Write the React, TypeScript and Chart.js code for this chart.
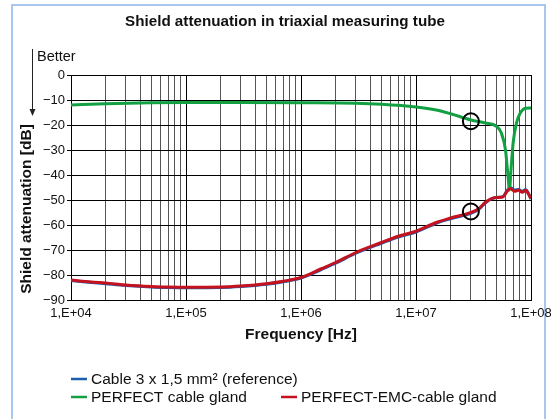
import React, { useEffect, useRef } from 'react';
import { Chart, registerables } from 'chart.js';

Chart.register(...registerables);

// ---- data ----
const refFreq = [1e4, 1.5e4, 2e4, 3e4, 5e4, 7e4, 1e5, 2e5, 3e5, 5e5, 7e5, 1e6, 1.5e6, 2e6, 3e6, 5e6, 7e6, 1e7, 1.5e7, 2e7, 3e7, 3.5e7, 4e7, 4.5e7, 5e7, 5.7e7, 6.2e7, 6.6e7, 7.2e7, 7.8e7, 8.4e7, 9e7, 9.5e7, 1e8];
const refDb = [-82.2, -83.0, -83.5, -84.2, -84.8, -85.0, -85.1, -85.0, -84.6, -83.7, -82.7, -81.2, -77.8, -75.3, -71.3, -67.3, -64.8, -62.8, -59.3, -57.5, -55.3, -53.8, -51.2, -49.6, -49.0, -48.6, -46.2, -45.0, -46.0, -45.8, -46.5, -45.8, -47.4, -49.6];
const emcFreq = refFreq;
const emcDb = [-82.0, -82.8, -83.2, -84.0, -84.6, -84.8, -84.9, -84.8, -84.4, -83.5, -82.5, -81.0, -77.5, -75.0, -71.0, -67.0, -64.5, -62.5, -59.0, -57.2, -55.0, -53.5, -51.0, -49.5, -49.0, -48.8, -46.5, -45.4, -46.5, -46.1, -46.9, -46.1, -47.6, -49.4];
const glandFreq = [1e4, 2e4, 5e4, 1e5, 3e5, 1e6, 3e6, 5e6, 1e7, 1.5e7, 2e7, 3e7, 4e7, 5e7, 5.5e7, 6e7, 6.3e7, 6.5e7, 6.7e7, 7e7, 7.5e7, 8e7, 9e7, 1e8];
const glandDb = [-12.0, -11.5, -11.1, -11.0, -11.0, -11.1, -11.3, -11.7, -12.8, -14.0, -15.5, -18.0, -19.2, -20.5, -23.0, -30.0, -40.0, -46.0, -38.0, -27.0, -19.0, -15.5, -13.3, -13.2];
const markerFreq = [3e7, 3e7];
const markerDb = [-18.5, -54.6];

const seriesNames = ['Cable 3 x 1,5 mm\u00b2 (reference)', 'PERFECT cable gland', 'PERFECT-EMC-cable gland'];
const seriesColors = ['#1a5eb0', '#13a043', '#c4121f'];

const xGridValues = [
  1e4, 2e4, 3e4, 4e4, 5e4, 6e4, 7e4, 8e4, 9e4,
  1e5, 2e5, 3e5, 4e5, 5e5, 6e5, 7e5, 8e5, 9e5,
  1e6, 2e6, 3e6, 4e6, 5e6, 6e6, 7e6, 8e6, 9e6,
  1e7, 2e7, 3e7, 4e7, 5e7, 6e7, 7e7, 8e7, 9e7,
  1e8,
];
const xTickValues = [1e4, 1e5, 1e6, 1e7, 1e8];
const xTickLabels = ['1,E+04', '1,E+05', '1,E+06', '1,E+07', '1,E+08'];
const yTickValues = [0, -10, -20, -30, -40, -50, -60, -70, -80, -90];

const FONT = '"Liberation Sans", Arial, Helvetica, sans-serif';

const toPts = (xs: number[], ys: number[]) => xs.map((x, i) => ({ x, y: ys[i] }));

const decor = {
  id: 'decor',
  beforeDraw(chart: any) {
    const ctx = chart.ctx;
    ctx.save();
    ctx.fillStyle = '#ffffff';
    ctx.fillRect(0, 0, chart.width, chart.height);
    ctx.strokeStyle = '#a9c7ee';
    ctx.lineWidth = 2;
    ctx.strokeRect(12, 5, 533, 440);
    ctx.restore();
  },
  afterDraw(chart: any) {
    const ctx = chart.ctx;
    const area = chart.chartArea;
    ctx.save();
    ctx.fillStyle = '#111';
    ctx.textBaseline = 'middle';

    // title
    ctx.font = `bold 15.2px ${FONT}`;
    ctx.textAlign = 'center';
    ctx.fillText('Shield attenuation in triaxial measuring tube', 285, 22);

    // "Better" + arrow
    ctx.font = `14.5px ${FONT}`;
    ctx.textAlign = 'left';
    ctx.fillText('Better', 37, 57);
    ctx.strokeStyle = '#222';
    ctx.lineWidth = 1;
    ctx.beginPath();
    ctx.moveTo(32.5, 49);
    ctx.lineTo(32.5, 110);
    ctx.stroke();
    ctx.fillStyle = '#222';
    ctx.beginPath();
    ctx.moveTo(29.5, 109);
    ctx.lineTo(35.5, 109);
    ctx.lineTo(32.5, 116);
    ctx.closePath();
    ctx.fill();

    // axis titles
    ctx.fillStyle = '#111';
    ctx.font = `bold 15.5px ${FONT}`;
    ctx.textAlign = 'center';
    ctx.fillText('Frequency [Hz]', (area.left + area.right) / 2, 335);
    ctx.save();
    ctx.translate(27, 209);
    ctx.rotate(-Math.PI / 2);
    ctx.fillText('Shield attenuation [dB]', 0, 0);
    ctx.restore();

    // legend
    const items = [
      { x: 71, y: 379, i: 0 },
      { x: 71, y: 397, i: 1 },
      { x: 281, y: 397, i: 2 },
    ];
    ctx.font = `15.5px ${FONT}`;
    ctx.textAlign = 'left';
    items.forEach((it) => {
      ctx.strokeStyle = seriesColors[it.i];
      ctx.lineWidth = 2.5;
      ctx.beginPath();
      ctx.moveTo(it.x, it.y);
      ctx.lineTo(it.x + 16, it.y);
      ctx.stroke();
      ctx.fillStyle = '#111';
      ctx.fillText(seriesNames[it.i], it.x + 20, it.y + 0.5);
    });
    ctx.restore();
  },
};

export default function App() {
  const ref = useRef<HTMLCanvasElement | null>(null);

  useEffect(() => {
    document.body.style.margin = '0';
    const canvas = ref.current;
    if (!canvas) return;
    const chart = new Chart(canvas, {
      type: 'line',
      data: {
        datasets: [
          {
            label: 'markers',
            data: toPts(markerFreq, markerDb),
            showLine: false,
            pointRadius: 8,
            pointBorderWidth: 2,
            pointBorderColor: '#000',
            pointBackgroundColor: 'rgba(0,0,0,0)',
            borderColor: '#000',
            order: 0,
          },
          {
            label: seriesNames[2],
            data: toPts(emcFreq, emcDb),
            borderColor: seriesColors[2],
            borderWidth: 3,
            pointRadius: 0,
            cubicInterpolationMode: 'monotone',
            order: 1,
          },
          {
            label: seriesNames[1],
            data: toPts(glandFreq, glandDb),
            borderColor: seriesColors[1],
            borderWidth: 3,
            pointRadius: 0,
            cubicInterpolationMode: 'monotone',
            order: 2,
          },
          {
            label: seriesNames[0],
            data: toPts(refFreq, refDb),
            borderColor: seriesColors[0],
            borderWidth: 3,
            pointRadius: 0,
            cubicInterpolationMode: 'monotone',
            order: 3,
          },
        ],
      },
      options: {
        responsive: false,
        animation: false,
        layout: { padding: { left: 0, right: 20, top: 75, bottom: 0 } },
        plugins: {
          legend: { display: false },
          title: { display: false },
          tooltip: { enabled: false },
        },
        scales: {
          x: {
            type: 'logarithmic',
            min: 1e4,
            max: 1e8,
            afterBuildTicks: (scale: any) => {
              scale.ticks = xGridValues.map((v) => ({ value: v }));
            },
            afterFit: (scale: any) => {
              scale.height = 119;
              scale.paddingLeft = 0;
              scale.paddingRight = 0;
            },
            ticks: {
              autoSkip: false,
              maxRotation: 0,
              minRotation: 0,
              padding: 6,
              color: '#111',
              font: { family: FONT, size: 13 },
              callback: (value: any) => {
                const idx = xTickValues.findIndex((t) => Math.abs(t - Number(value)) / t < 1e-6);
                return idx >= 0 ? xTickLabels[idx] : '';
              },
            },
            grid: {
              drawTicks: false,
              color: (ctx: any) => {
                const v = ctx.tick ? ctx.tick.value : 0;
                return xTickValues.some((t) => Math.abs(t - v) / t < 1e-6) ? '#000' : '#555';
              },
              lineWidth: 1,
            },
            border: { display: true, color: '#000', width: 1 },
          },
          y: {
            type: 'linear',
            min: -90,
            max: 0,
            afterBuildTicks: (scale: any) => {
              scale.ticks = yTickValues.map((v) => ({ value: v }));
            },
            afterFit: (scale: any) => {
              scale.width = 71;
              scale.paddingTop = 0;
              scale.paddingBottom = 0;
            },
            ticks: {
              padding: 2,
              color: '#111',
              font: { family: FONT, size: 13 },
              callback: (value: any) => {
                const n = Number(value);
                return n < 0 ? '\u2212' + Math.abs(n) : String(n);
              },
            },
            grid: {
              color: '#000',
              lineWidth: 1,
              tickLength: 4,
              drawTicks: true,
            },
            border: { display: true, color: '#000', width: 1 },
          },
        },
      },
      plugins: [decor],
    } as any);
    return () => chart.destroy();
  }, []);

  return (
    <div style={{ position: 'relative', width: 551, height: 419 }}>
      <canvas ref={ref} width={551} height={419} style={{ display: 'block', width: 551, height: 419 }} />
    </div>
  );
}
